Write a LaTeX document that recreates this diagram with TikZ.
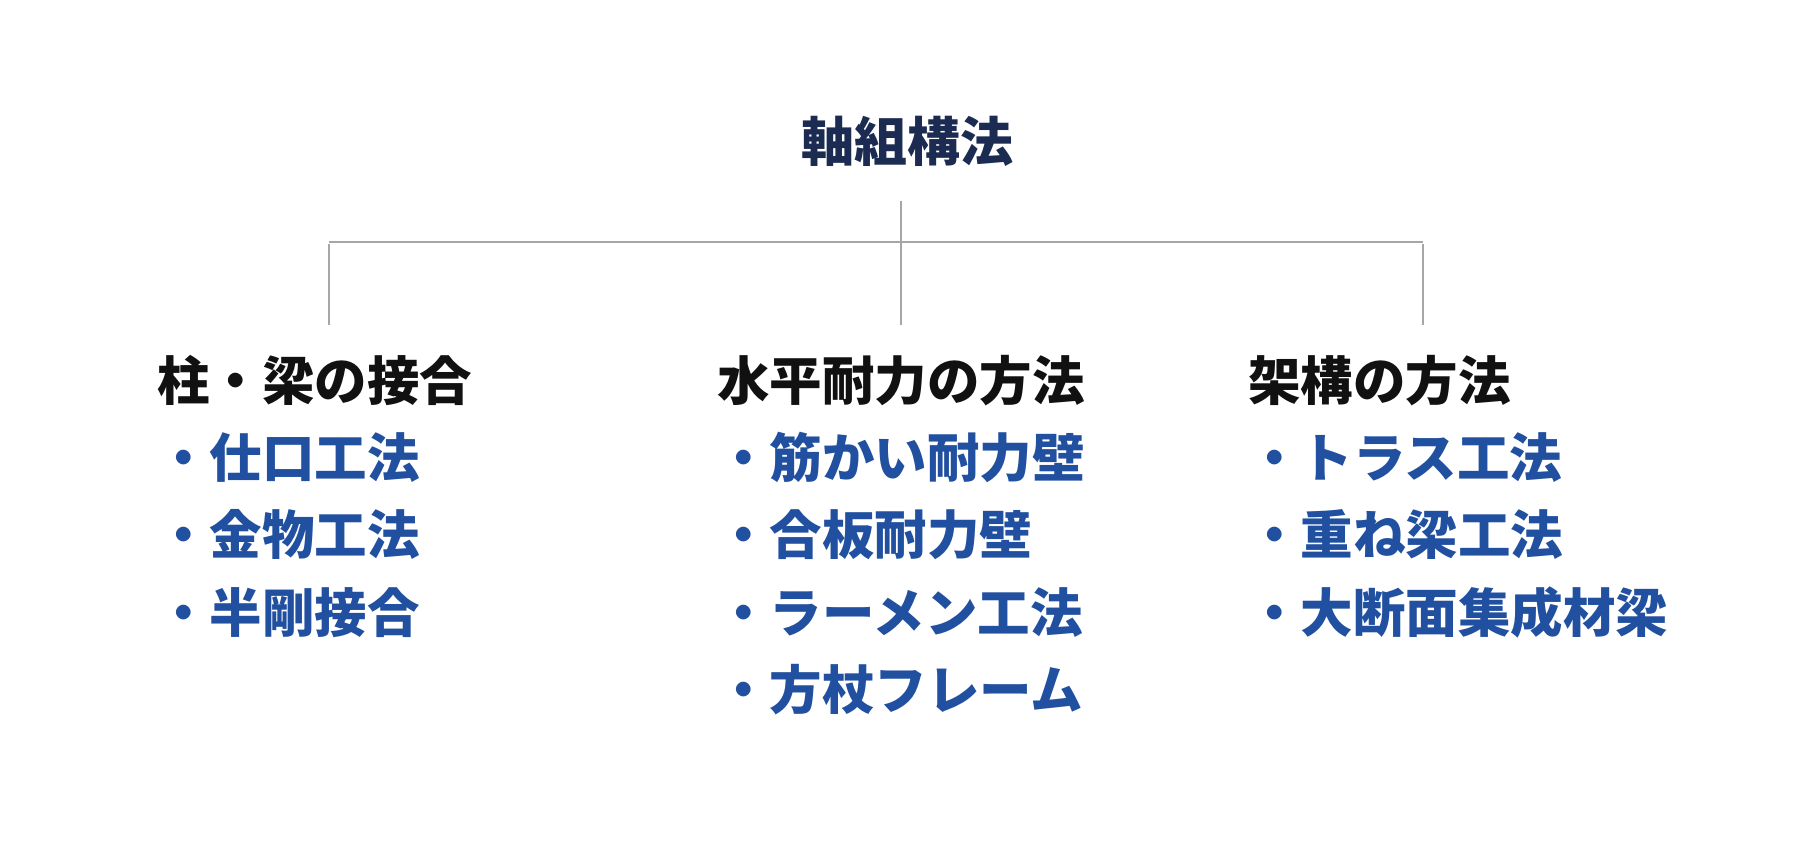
\documentclass[tikz,border=0pt]{standalone}
\usepackage{fontspec}
\newfontfamily\jp{Noto Sans CJK JP}
\definecolor{titlecol}{HTML}{1C2B52}
\definecolor{headcol}{HTML}{111111}
\definecolor{itemcol}{HTML}{2150A0}
\definecolor{linecol}{HTML}{A6A6A6}
\tikzset{
  titlebox/.style={anchor=base, inner sep=0pt, text=titlecol, font=\jp\bfseries\fontsize{53}{60}\selectfont},
  headbox/.style={anchor=base west, inner sep=0pt, text=headcol, font=\jp\bfseries\fontsize{52.5}{60}\selectfont},
  itembox/.style={anchor=base west, inner sep=0pt, text=itemcol, font=\jp\bfseries\fontsize{52.5}{60}\selectfont},
  hconn/.style={draw=linecol, line width=2pt},
  vconn/.style={draw=linecol, line width=1.5pt},
}
\begin{document}
\begin{tikzpicture}[x=1pt, y=-1pt]
\useasboundingbox (0,0) rectangle (1800,850);
\fill[white] (0,0) rectangle (1800,850);

% title
\node[titlebox] (title) at (907,162) {軸組構法};

% tree coordinates
\coordinate (top) at (901,201);
\coordinate (jl) at (329,242);
\coordinate (jm) at (901,242);
\coordinate (jr) at (1423,242);
\coordinate (el) at (329,325);
\coordinate (em) at (901,325);
\coordinate (er) at (1423,325);

\draw[vconn] (top) -- (em);
\draw[hconn] (jl) -- (jr);
\draw[vconn] ([yshift=-2pt]jl) -- (el);
\draw[vconn] ([yshift=-2pt]jr) -- (er);

% column 1
\node[headbox] (h1) at (157,400) {柱・梁の接合};
\node[itembox] (a1) at (157,477) {・仕口工法};
\node[itembox] (a2) at (157,554) {・金物工法};
\node[itembox] (a3) at (157,632) {・半剛接合};

% column 2
\node[headbox] (h2) at (717,400) {水平耐力の方法};
\node[itembox] (b1) at (717,477) {・筋かい耐力壁};
\node[itembox] (b2) at (717,554) {・合板耐力壁};
\node[itembox] (b3) at (717,632) {・ラーメン工法};
\node[itembox] (b4) at (717,709) {・方杖フレーム};

% column 3
\node[headbox] (h3) at (1248,400) {架構の方法};
\node[itembox] (c1) at (1248,477) {・トラス工法};
\node[itembox] (c2) at (1248,554) {・重ね梁工法};
\node[itembox] (c3) at (1248,632) {・大断面集成材梁};
\end{tikzpicture}
\end{document}
